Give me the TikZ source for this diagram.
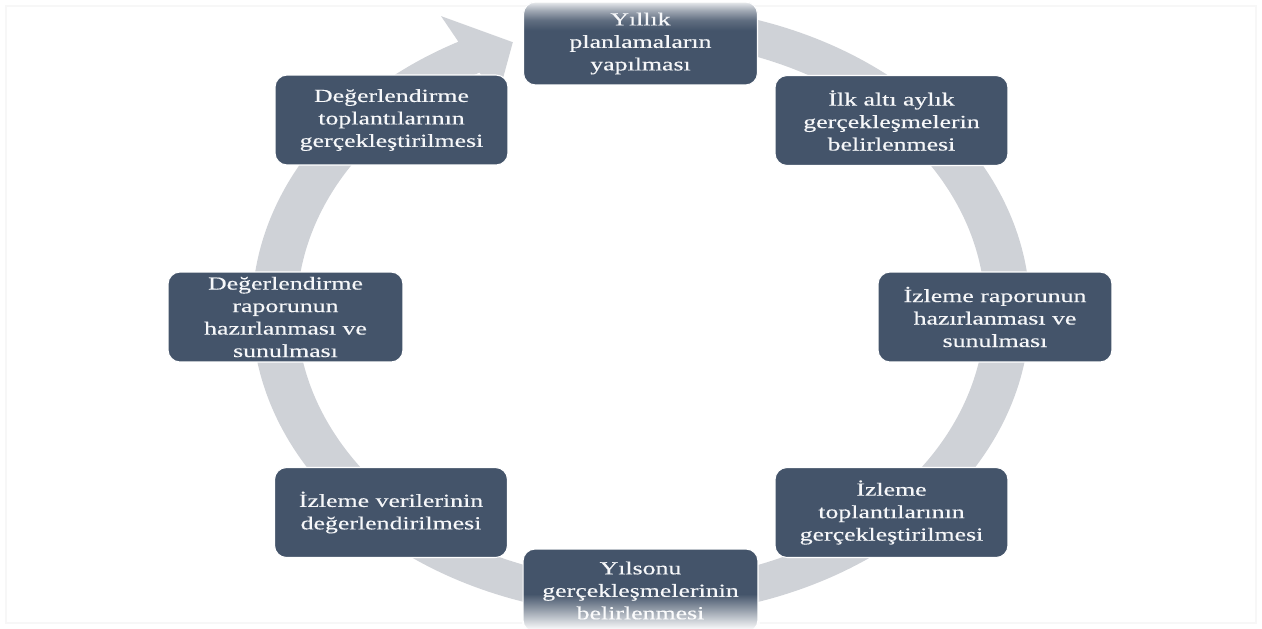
\documentclass[tikz,border=0pt]{standalone}
\usepackage{fontspec}
\setmainfont{Liberation Serif}[FakeStretch=1.4, FakeBold=0.35]
\usetikzlibrary{fadings,calc}

\definecolor{boxcol}{RGB}{68,84,106}
\definecolor{ringcol}{RGB}{207,210,215}
\definecolor{txtcol}{RGB}{246,247,249}

% top box: dark fill that lightens towards its upper edge
\pgfdeclareverticalshading{topfade}{100bp}{%
  color(0bp)=(boxcol); color(25bp)=(boxcol); color(58bp)=(boxcol);
  color(64bp)=(boxcol!85!white); color(70bp)=(boxcol!50!white);
  color(75bp)=(boxcol!12!white); color(100bp)=(boxcol!12!white)}
% washes out the lower edge of the last box
\tikzfading[name=fadebottom, top color=transparent!100, bottom color=transparent!0]

\begin{document}
\begin{tikzpicture}[x=0.02cm, y=-0.02cm,
  stepbox/.style={rectangle, rounded corners=0.24cm, fill=boxcol, draw=white,
    line width=0.6pt, text=txtcol, align=center, inner sep=0pt,
    minimum width=4.66cm, minimum height=1.8cm,
    font=\fontsize{10.5}{12.8}\selectfont},
  frame/.style={draw=black!3, line width=1pt},
]
\useasboundingbox (0,0) rectangle (1262,629);
\clip (0,0) rectangle (1262,629);

% faint outer frame
\draw[frame] (6,6) rectangle (1256,623);

% grey cycle arrow behind the boxes (clockwise)
\coordinate (c) at (641,311);
\fill[ringcol]
  ($(c)+(-85:389 and 305)$)
    arc[start angle=-85, end angle=242, x radius=389, y radius=305]
  -- ($(c)+(242:426 and 334)$)
  -- ($(c)+(249.5:366 and 287)$)
  -- ($(c)+(242:306 and 240)$)
  -- ($(c)+(242:344 and 270)$)
    arc[start angle=242, end angle=-85, x radius=344, y radius=270]
  -- cycle;

% the eight steps
\node[stepbox, shade, shading=topfade, minimum width=4.68cm, minimum height=1.66cm]
  (s1) at (640.5,43.5) {Yıllık\\planlamaların\\yapılması};
\node[stepbox] (s2) at (891.5,120.5) {İlk altı aylık\\gerçekleşmelerin\\belirlenmesi};
\node[stepbox, minimum width=4.68cm] (s3) at (995,317) {İzleme raporunun\\hazırlanması ve\\sunulması};
\node[stepbox] (s4) at (891.5,512.5) {İzleme\\toplantılarının\\gerçekleştirilmesi};
\node[stepbox, minimum width=4.7cm, minimum height=1.66cm]
  (s5) at (640.5,590.5) {Yılsonu\\gerçekleşmelerinin\\belirlenmesi};
\node[stepbox] (s6) at (391,512.5) {İzleme verilerinin\\değerlendirilmesi};
\node[stepbox, minimum width=4.7cm] (s7) at (285.5,317) {Değerlendirme\\raporunun\\hazırlanması ve\\sunulması};
\node[stepbox] (s8) at (391.5,120) {Değerlendirme\\toplantılarının\\gerçekleştirilmesi};

% lower edge of the last box fades into the page
\fill[white, path fading=fadebottom] (522,594) rectangle (760,630);
\end{tikzpicture}
\end{document}
